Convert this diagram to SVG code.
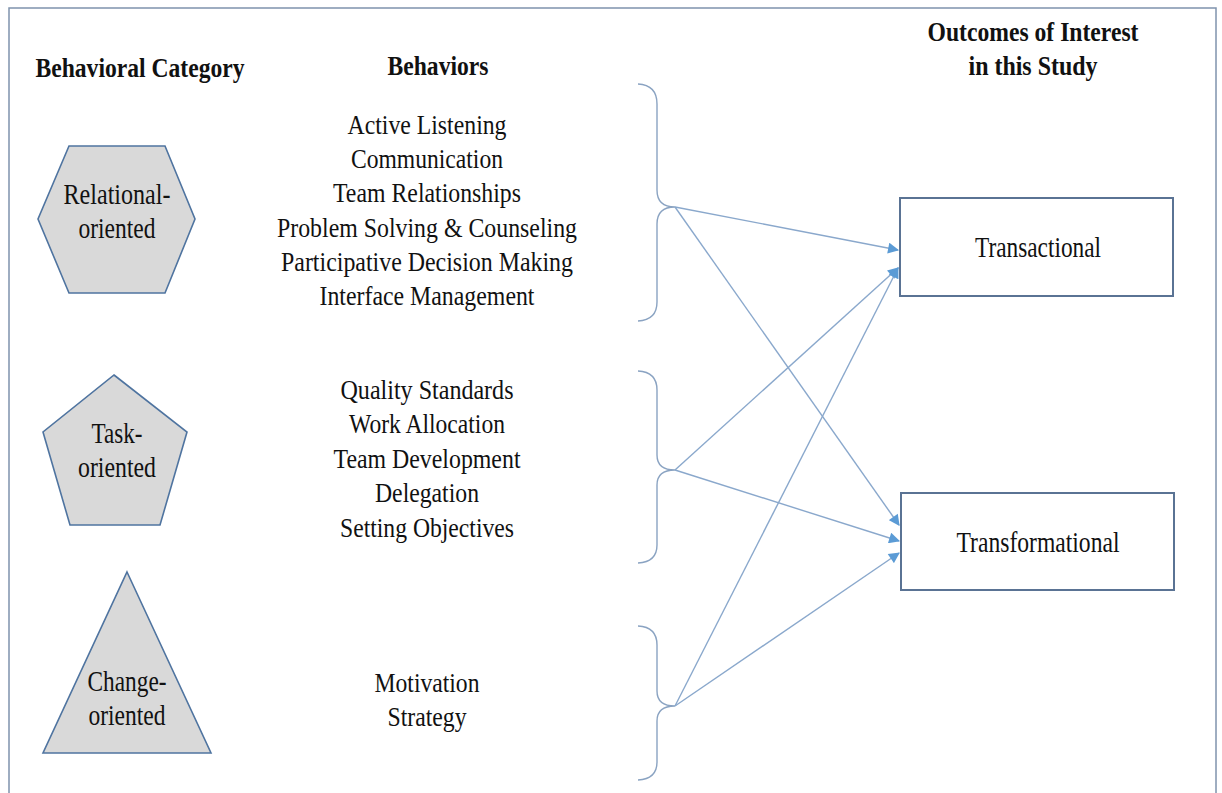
<svg xmlns="http://www.w3.org/2000/svg" width="1222" height="793" viewBox="0 0 1222 793">
<defs>
<style>
.t{font-family:"Liberation Serif","Times New Roman",serif;font-size:28px;fill:#111;text-anchor:middle}
.h{font-weight:bold;font-size:27px}
.s{font-size:29px}
.shape{fill:#d9d9d9;stroke:#4f74a0;stroke-width:1.6}
.box{fill:#fff;stroke:#5a7394;stroke-width:2}
.brace{fill:none;stroke:#8aa3c2;stroke-width:1.4}
.arr{fill:none;stroke:#8aa8cc;stroke-width:1.4;marker-end:url(#ah)}
</style>
<marker id="ah" viewBox="0 0 10 10" refX="9" refY="5" markerWidth="12" markerHeight="11" markerUnits="userSpaceOnUse" orient="auto">
<path d="M0,0 L10,5 L0,10 z" fill="#5b9bd5"/>
</marker>
</defs>
<rect width="1222" height="793" fill="#fff"/>
<rect x="9" y="8" width="1207" height="800" fill="none" stroke="#7f93ad" stroke-width="1.5"/>

<g id="headers">
<text class="t h" x="140" y="77" textLength="209" lengthAdjust="spacingAndGlyphs">Behavioral Category</text>
<text class="t h" x="438" y="75" textLength="101" lengthAdjust="spacingAndGlyphs">Behaviors</text>
<text class="t h" x="1033" y="41" textLength="211" lengthAdjust="spacingAndGlyphs">Outcomes of Interest</text>
<text class="t h" x="1033" y="75" textLength="129" lengthAdjust="spacingAndGlyphs">in this Study</text>
</g>

<g id="relational">
<polygon class="shape" points="69,146 165,146 195,219 165,293 69,293 38,219"/>
<text class="t s" x="117" y="204" textLength="107" lengthAdjust="spacingAndGlyphs">Relational-</text>
<text class="t s" x="117" y="238" textLength="77" lengthAdjust="spacingAndGlyphs">oriented</text>
</g>

<g id="task">
<polygon class="shape" points="114,375 187,432 160,525 70,525 43,432"/>
<text class="t s" x="117" y="443" textLength="51" lengthAdjust="spacingAndGlyphs">Task-</text>
<text class="t s" x="117" y="477" textLength="78" lengthAdjust="spacingAndGlyphs">oriented</text>
</g>

<g id="change">
<polygon class="shape" points="127,572 211,753 43,753"/>
<text class="t s" x="127" y="691" textLength="79" lengthAdjust="spacingAndGlyphs">Change-</text>
<text class="t s" x="127" y="725" textLength="77" lengthAdjust="spacingAndGlyphs">oriented</text>
</g>

<g id="behaviors-relational">
<text class="t" x="427" y="134" textLength="159" lengthAdjust="spacingAndGlyphs">Active Listening</text>
<text class="t" x="427" y="168" textLength="152" lengthAdjust="spacingAndGlyphs">Communication</text>
<text class="t" x="427" y="202" textLength="188" lengthAdjust="spacingAndGlyphs">Team Relationships</text>
<text class="t" x="427" y="237" textLength="300" lengthAdjust="spacingAndGlyphs">Problem Solving &amp; Counseling</text>
<text class="t" x="427" y="271" textLength="292" lengthAdjust="spacingAndGlyphs">Participative Decision Making</text>
<text class="t" x="427" y="305" textLength="215" lengthAdjust="spacingAndGlyphs">Interface Management</text>
</g>

<g id="behaviors-task">
<text class="t" x="427" y="399" textLength="173" lengthAdjust="spacingAndGlyphs">Quality Standards</text>
<text class="t" x="427" y="433" textLength="156" lengthAdjust="spacingAndGlyphs">Work Allocation</text>
<text class="t" x="427" y="468" textLength="187" lengthAdjust="spacingAndGlyphs">Team Development</text>
<text class="t" x="427" y="502" textLength="104" lengthAdjust="spacingAndGlyphs">Delegation</text>
<text class="t" x="427" y="537" textLength="174" lengthAdjust="spacingAndGlyphs">Setting Objectives</text>
</g>

<g id="behaviors-change">
<text class="t" x="427" y="692" textLength="105" lengthAdjust="spacingAndGlyphs">Motivation</text>
<text class="t" x="427" y="726" textLength="79" lengthAdjust="spacingAndGlyphs">Strategy</text>
</g>

<g id="transactional">
<rect class="box" x="900" y="198" width="273" height="98"/>
<text class="t s" x="1038" y="257" textLength="126" lengthAdjust="spacingAndGlyphs">Transactional</text>
</g>

<g id="transformational">
<rect class="box" x="901" y="493" width="273" height="97"/>
<text class="t s" x="1038" y="552" textLength="163" lengthAdjust="spacingAndGlyphs">Transformational</text>
</g>

<g id="connectors">
<path class="brace" d="M638,84 Q657,85 657,104 L657,190 Q657,207 675,207 Q657,207 657,224 L657,302 Q657,320 638,321"/>
<path class="brace" d="M638,371 Q657,372 657,390 L657,455 Q657,470 675,470 Q657,470 657,485 L657,545 Q657,562 638,563"/>
<path class="brace" d="M638,626 Q657,627 657,645 L657,691 Q657,706 675,706 Q657,706 657,721 L657,762 Q657,779 638,780"/>
<line class="arr" x1="675" y1="207" x2="898" y2="250"/>
<line class="arr" x1="675" y1="207" x2="899" y2="525"/>
<line class="arr" x1="675" y1="470" x2="898" y2="268"/>
<line class="arr" x1="675" y1="470" x2="899" y2="541"/>
<line class="arr" x1="675" y1="706" x2="898" y2="268"/>
<line class="arr" x1="675" y1="706" x2="899" y2="553"/>
</g>
</svg>
